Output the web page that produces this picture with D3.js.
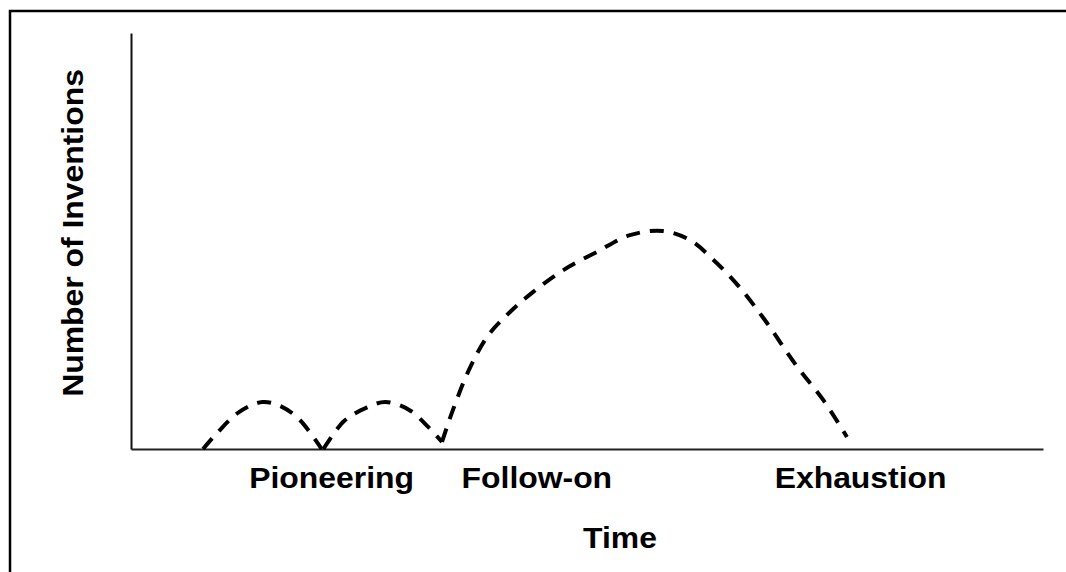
<!DOCTYPE html>
<html>
<head>
<meta charset="utf-8">
<script src="https://cdn.jsdelivr.net/npm/d3@7"></script>
<style>
    html, body { margin: 0; padding: 0; background: #fff; }
    svg { display: block; }
    text { font-family: "Liberation Sans", Arial, sans-serif; font-weight: bold; fill: #000; }
</style>
</head>
<body>
<svg id="chart" width="1066" height="572"></svg>
<script>
// time (0-100) vs number of inventions (0-100), three dashed humps
const pioneeringA = [[7.9, 0], [9.5, 4], [11.8, 8.8], [14.4, 11.3], [16.5, 10.2], [18.5, 7], [20.9, 0]];
const pioneeringB = [[21.1, 0], [23.4, 6.8], [25.9, 10], [27.9, 11.3], [30.5, 9.4], [32.5, 5.5], [34.1, 1.7]];
const followOn = [
    [34.1, 1.7], [35.3, 9.4], [37.2, 19.7], [39.2, 27.4], [41.5, 32.8], [44.0, 37.6],
    [47.4, 43.0], [51.1, 47.4], [54.7, 51.4], [58.3, 52.4], [61.3, 50.2], [63.8, 45.6],
    [66.6, 39.2], [69.5, 31.0], [73.0, 19.9], [75.9, 11.8], [78.5, 2.9],
];
const phaseLabels = ['Pioneering', 'Follow-on', 'Exhaustion'];
const phaseCenters = [22, 44.5, 80];

const margin = { left: 131, right: 1043, top: 33, bottom: 449 };

const svg = d3.select('#chart');

const xScale = d3.scaleLinear().domain([0, 100]).range([margin.left, margin.right]);
const yScale = d3.scaleLinear().domain([0, 100]).range([margin.bottom, margin.top]);

// outer frame (runs off the right and bottom edges)
svg.append('rect')
    .attr('x', 10)
    .attr('y', 11)
    .attr('width', 1200)
    .attr('height', 700)
    .attr('fill', 'none')
    .attr('stroke', '#000')
    .attr('stroke-width', 2.5);

// axes, no ticks
svg.append('g')
    .attr('transform', `translate(0,${margin.bottom})`)
    .call(d3.axisBottom(xScale).tickSize(0).tickValues([]))
    .call((g) => g.select('.domain').attr('stroke', '#222').attr('stroke-width', 2));

svg.append('g')
    .attr('transform', `translate(${margin.left},0)`)
    .call(d3.axisLeft(yScale).tickSize(0).tickValues([]))
    .call((g) => g.select('.domain').attr('stroke', '#111').attr('stroke-width', 2));

const line = d3.line()
    .x((d) => xScale(d[0]))
    .y((d) => yScale(d[1]))
    .curve(d3.curveCatmullRom.alpha(0.5));

svg.selectAll('path.curve')
    .data([pioneeringA, pioneeringB, followOn])
    .enter()
    .append('path')
    .attr('class', 'curve')
    .attr('d', line)
    .attr('fill', 'none')
    .attr('stroke', '#000')
    .attr('stroke-width', 4)
    .attr('stroke-dasharray', '14 10');

svg.selectAll('text.phase')
    .data(phaseLabels)
    .enter()
    .append('text')
    .attr('class', 'phase')
    .attr('x', (d, i) => xScale(phaseCenters[i]))
    .attr('y', 488)
    .attr('text-anchor', 'middle')
    .attr('font-size', 29)
    .attr('transform', (d, i) => {
        const cx = xScale(phaseCenters[i]);
        return `translate(${cx},0) scale(1.1,1) translate(${-cx},0)`;
    })
    .text((d) => d);

svg.append('text')
    .attr('x', 620)
    .attr('y', 548)
    .attr('text-anchor', 'middle')
    .attr('font-size', 29)
    .attr('transform', 'translate(620,0) scale(1.1,1) translate(-620,0)')
    .text('Time');

svg.append('text')
    .attr('transform', 'translate(83,233) rotate(-90) scale(1.1,1)')
    .attr('text-anchor', 'middle')
    .attr('font-size', 29)
    .text('Number of Inventions');
</script>
</body>
</html>
